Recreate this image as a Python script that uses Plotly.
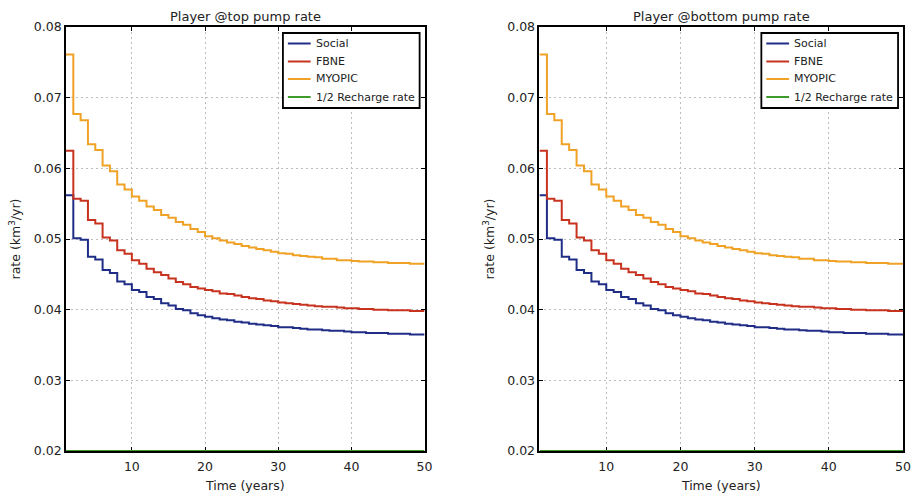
import plotly.graph_objects as go

# Time axis (years) and pump rates (km^3/yr) for each strategy
years = list(range(1, 51))

social = [0.0562, 0.0501, 0.0499, 0.0475, 0.0471, 0.0456, 0.0452, 0.0440, 0.0436, 0.0428,
          0.0425, 0.0418, 0.0415, 0.0409, 0.0406, 0.0401, 0.0399, 0.0395, 0.0392, 0.0390,
          0.0388, 0.0386, 0.0385, 0.0383, 0.0382, 0.0380, 0.0379, 0.0378, 0.0377, 0.0375,
          0.0375, 0.0374, 0.0373, 0.0372, 0.0372, 0.0371, 0.0370, 0.0370, 0.0369, 0.0368,
          0.0368, 0.0367, 0.0367, 0.0367, 0.0366, 0.0366, 0.0366, 0.0365, 0.0365, 0.0365]

fbne = [0.0625, 0.0557, 0.0554, 0.0527, 0.0522, 0.0502, 0.0498, 0.0484, 0.0479, 0.0470,
        0.0465, 0.0458, 0.0453, 0.0449, 0.0444, 0.0439, 0.0436, 0.0432, 0.0430, 0.0428,
        0.0426, 0.0423, 0.0422, 0.0420, 0.0418, 0.0416, 0.0415, 0.0413, 0.0412, 0.0410,
        0.0409, 0.0408, 0.0407, 0.0406, 0.0405, 0.0404, 0.0404, 0.0403, 0.0402, 0.0402,
        0.0401, 0.0401, 0.0400, 0.0400, 0.0399, 0.0399, 0.0399, 0.0398, 0.0398, 0.0398]

myopic = [0.0761, 0.0677, 0.0668, 0.0634, 0.0626, 0.0604, 0.0596, 0.0577, 0.0570, 0.0560,
          0.0554, 0.0546, 0.0541, 0.0534, 0.0530, 0.0524, 0.0520, 0.0514, 0.0510, 0.0504,
          0.0501, 0.0498, 0.0495, 0.0493, 0.0490, 0.0488, 0.0486, 0.0484, 0.0482, 0.0480,
          0.0479, 0.0477, 0.0476, 0.0475, 0.0474, 0.0472, 0.0472, 0.0470, 0.0470, 0.0469,
          0.0468, 0.0468, 0.0467, 0.0467, 0.0466, 0.0466, 0.0466, 0.0465, 0.0465, 0.0465]

half_recharge = [0.02] * 50

series_names = ["Social", "FBNE", "MYOPIC", "1/2 Recharge rate"]
series_colors = ["#1f2d86", "#c8331f", "#f0a226", "#3f9a2c"]
panel_titles = ["Player @top pump rate", "Player @bottom pump rate"]
x_ticks = [10, 20, 30, 40, 50]
y_ticks = [0.02, 0.03, 0.04, 0.05, 0.06, 0.07, 0.08]

FONT = "'DejaVu Sans', 'Open Sans', sans-serif"
TXT = "#222222"

W, H = 920, 500
M_L, M_R, M_T, M_B = 66, 9, 27, 49
PLOT_W = W - M_L - M_R
PLOT_H = H - M_T - M_B

fig = go.Figure()

panels = [("x", "y"), ("x2", "y2")]
all_series = [social, fbne, myopic, half_recharge]

for xa, ya in panels:
    for name, vals, col in zip(series_names, all_series, series_colors):
        fig.add_trace(go.Scatter(
            x=years, y=vals, name=name, mode="lines",
            line=dict(color=col, width=2, shape="hv"),
            xaxis=xa, yaxis=ya, showlegend=False,
        ))

axis_common = dict(
    showline=True, linecolor="black", linewidth=1.8, mirror="ticks",
    ticks="inside", ticklen=4, tickcolor="black", tickwidth=1.2,
    showgrid=True, gridcolor="#bdbdbd", griddash="2px,3px", gridwidth=1,
    zeroline=False, tickfont=dict(size=12.5, color=TXT, family=FONT),
    layer="below traces",
)

xtitle = dict(text="Time (years)", font=dict(size=12.5, family=FONT, color=TXT), standoff=8)
ytitle = dict(text="rate (km<sup>3</sup>/yr)", font=dict(size=12.5, family=FONT, color=TXT), standoff=10)

x_domains = [[0, 0.4284], [0.5657, 1]]

fig.update_layout(
    width=W, height=H,
    margin=dict(l=M_L, r=M_R, t=M_T, b=M_B),
    paper_bgcolor="white", plot_bgcolor="white",
    font=dict(family=FONT, color=TXT),
    showlegend=False,
    xaxis=dict(domain=x_domains[0], range=[1, 50], tickvals=x_ticks, title=xtitle,
               ticklabelstandoff=3, **axis_common),
    yaxis=dict(domain=[0, 1], range=[0.02, 0.08], tickvals=y_ticks, tickformat=".2f",
               title=ytitle, **axis_common),
    xaxis2=dict(domain=x_domains[1], range=[1, 50], tickvals=x_ticks, anchor="y2",
                title=xtitle, ticklabelstandoff=3, **axis_common),
    yaxis2=dict(domain=[0, 1], range=[0.02, 0.08], tickvals=y_ticks, tickformat=".2f", anchor="x2",
                title=ytitle, **axis_common),
)

# Boxed key in the upper-right corner of each panel (pixel offsets inside the panel)
BOX_RIGHT, BOX_W = 5, 138
BOX_TOP, BOX_BOTTOM = 6, 81
ROW_Y = [16.5, 34.5, 52, 70]
SAMPLE_X0, SAMPLE_X1, TEXT_X = 5, 28, 31

for (xa, ya), dom in zip(panels, x_domains):
    pw = (dom[1] - dom[0]) * PLOT_W
    xref, yref = f"{xa} domain", f"{ya} domain"

    def fx(px_from_left):
        return px_from_left / pw

    def fy(px_from_top):
        return 1 - px_from_top / PLOT_H

    left = pw - BOX_RIGHT - BOX_W
    fig.add_shape(type="rect", xref=xref, yref=yref,
                  x0=fx(left), x1=fx(pw - BOX_RIGHT), y0=fy(BOX_BOTTOM), y1=fy(BOX_TOP),
                  line=dict(color="black", width=1.8), fillcolor="white", layer="above")
    for name, col, ry in zip(series_names, series_colors, ROW_Y):
        fig.add_shape(type="line", xref=xref, yref=yref,
                      x0=fx(left + SAMPLE_X0), x1=fx(left + SAMPLE_X1), y0=fy(ry), y1=fy(ry),
                      line=dict(color=col, width=2), layer="above")
        fig.add_annotation(text=name, xref=xref, yref=yref, x=fx(left + TEXT_X), y=fy(ry),
                           xanchor="left", yanchor="middle", showarrow=False,
                           font=dict(size=11, family=FONT, color=TXT))

for title, dom in zip(panel_titles, x_domains):
    fig.add_annotation(text=title, x=(dom[0] + dom[1]) / 2, y=1, xref="paper", yref="paper",
                       xanchor="center", yanchor="bottom", showarrow=False, yshift=1,
                       font=dict(size=13, family=FONT, color=TXT))

fig.write_html("out.html")
